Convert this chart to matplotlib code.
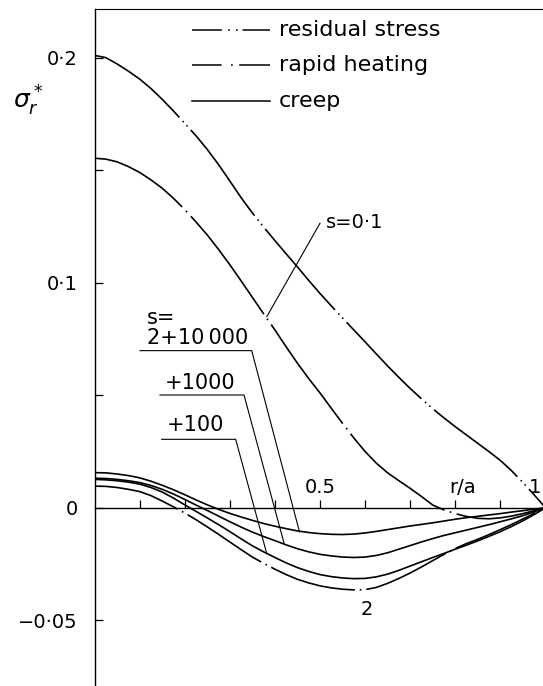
import numpy as np
import matplotlib
matplotlib.use("Agg")
import matplotlib.pyplot as plt

plt.rcParams['font.family'] = ['DejaVu Sans']
plt.rcParams['lines.scale_dashes'] = False

# radius r/a, every 0.025
r = [0, 0.025, 0.05, 0.075, 0.1, 0.125, 0.15, 0.175, 0.2, 0.225, 0.25, 0.275, 0.3, 0.325,
     0.35, 0.375, 0.4, 0.425, 0.45, 0.475, 0.5, 0.525, 0.55, 0.575, 0.6, 0.625, 0.65, 0.675,
     0.7, 0.725, 0.75, 0.775, 0.8, 0.825, 0.85, 0.875, 0.9, 0.925, 0.95, 0.975, 1.0]

# s = 0.1 curves
residual = [0.2010, 0.2000, 0.1972, 0.1940, 0.1905, 0.1863, 0.1815, 0.1763, 0.1708, 0.1653, 0.1592,
            0.1525, 0.1452, 0.1378, 0.1310, 0.1247, 0.1187, 0.1128, 0.1070, 0.1010, 0.0952, 0.0897,
            0.0843, 0.0790, 0.0737, 0.0683, 0.0630, 0.0579, 0.0530, 0.0484, 0.0440, 0.0399, 0.0360,
            0.0323, 0.0286, 0.0249, 0.0210, 0.0164, 0.0112, 0.0057, 0.0]
rapid = [0.1553, 0.1549, 0.1537, 0.1516, 0.1490, 0.1457, 0.1420, 0.1375, 0.1325, 0.1270, 0.1212,
         0.1148, 0.1080, 0.1008, 0.0935, 0.0862, 0.0790, 0.0715, 0.0642, 0.0574, 0.0510, 0.0442,
         0.0375, 0.0310, 0.0250, 0.0198, 0.0155, 0.0120, 0.0086, 0.0050, 0.0012, -0.0010, -0.0026,
         -0.0039, -0.0047, -0.0049, -0.0045, -0.0037, -0.0026, -0.0013, 0.0]

# creep curves, s = 2 + 10000 / +1000 / +100
creep_10000 = [0.0156, 0.0155, 0.0150, 0.0143, 0.0133, 0.0118, 0.0100, 0.0080, 0.0058, 0.0035, 0.0013,
               -0.0007, -0.0025, -0.0041, -0.0056, -0.0070, -0.0082, -0.0093, -0.0103, -0.0110, -0.0115,
               -0.0118, -0.0119, -0.0117, -0.0112, -0.0105, -0.0097, -0.0089, -0.0081, -0.0074, -0.0067,
               -0.0059, -0.0051, -0.0044, -0.0038, -0.0032, -0.0026, -0.0019, -0.0013, -0.0006, 0.0]
creep_1000 = [0.0131, 0.0130, 0.0126, 0.0120, 0.0112, 0.0099, 0.0082, 0.0061, 0.0037, 0.0012, -0.0012,
              -0.0037, -0.0062, -0.0086, -0.0108, -0.0128, -0.0146, -0.0165, -0.0182, -0.0196, -0.0207,
              -0.0214, -0.0219, -0.0221, -0.0219, -0.0212, -0.0200, -0.0184, -0.0168, -0.0152, -0.0137,
              -0.0123, -0.0111, -0.0099, -0.0087, -0.0075, -0.0062, -0.0049, -0.0035, -0.0018, 0.0]
creep_100 = [0.0126, 0.0124, 0.0120, 0.0114, 0.0105, 0.0090, 0.0070, 0.0043, 0.0013, -0.0016, -0.0045,
             -0.0075, -0.0106, -0.0138, -0.0169, -0.0196, -0.0221, -0.0245, -0.0266, -0.0283, -0.0297,
             -0.0306, -0.0312, -0.0315, -0.0314, -0.0307, -0.0295, -0.0278, -0.0259, -0.0240, -0.0221,
             -0.0203, -0.0184, -0.0166, -0.0147, -0.0127, -0.0106, -0.0083, -0.0058, -0.0030, 0.0]
# rapid heating, s = 2
rapid_s2 = [0.0096, 0.0095, 0.0090, 0.0082, 0.0072, 0.0054, 0.0030, 0.0004, -0.0023, -0.0053, -0.0085,
            -0.0118, -0.0152, -0.0186, -0.0219, -0.0247, -0.0273, -0.0297, -0.0318, -0.0334, -0.0347,
            -0.0356, -0.0362, -0.0365, -0.0364, -0.0354, -0.0336, -0.0314, -0.0290, -0.0263, -0.0235,
            -0.0207, -0.0181, -0.0159, -0.0140, -0.0119, -0.0097, -0.0074, -0.0050, -0.0025, 0.0]

yticks = [-0.05, 0, 0.05, 0.1, 0.15, 0.2]
ytick_labels = ['\u22120\u00b705', '0', '', '0\u00b71', '', '0\u00b72']
xticks = [0.1, 0.2, 0.3, 0.4, 0.5, 0.6, 0.7, 0.8, 0.9]

ls_residual = (0, (77, 3.5, 1.1, 3, 1.1, 3.5))
ls_rapid = (14, (88, 4, 1.2, 4))
ls_rapid2 = (0, (63, 3.5, 1.2, 3.5))

fig = plt.figure(figsize=(5.43, 6.86), dpi=100)
ax = fig.add_axes([94.5 / 543, 0, 451 / 543, 677 / 686])
ax.set_xlim(0, 1)
ax.set_ylim(-0.0792, 0.2216)

ax.plot(r, residual, color='k', lw=1.2, linestyle=ls_residual)
ax.plot(r, rapid, color='k', lw=1.2, linestyle=ls_rapid)
ax.plot(r, creep_10000, color='k', lw=1.2)
ax.plot(r, creep_1000, color='k', lw=1.2)
ax.plot(r, creep_100, color='k', lw=1.2)
ax.plot(r, rapid_s2, color='k', lw=1.2, linestyle=ls_rapid2)

# axes
ax.spines['right'].set_visible(False)
ax.spines['bottom'].set_position(('data', 0))
ax.spines['top'].set_linewidth(0.8)
ax.spines['left'].set_linewidth(1.0)
ax.spines['bottom'].set_linewidth(1.0)
ax.set_yticks(yticks)
ax.set_yticklabels(ytick_labels)
ax.tick_params(axis='y', direction='in', length=6, width=0.9, pad=12, labelsize=14)
ax.set_xticks(xticks)
ax.tick_params(axis='x', direction='in', length=6, width=0.9, labelbottom=False)

ax.text(0.5, 0.0065, '0.5', ha='center', va='baseline', fontsize=14)
ax.text(0.815, 0.0065, 'r/a', ha='center', va='baseline', fontsize=14)
ax.text(0.977, 0.0065, '1', ha='center', va='baseline', fontsize=14)
ax.text(-0.147, 0.1807, r'$\sigma_r^*$', ha='center', va='center', fontsize=18, clip_on=False)

# legend
leg_y = [0.2123, 0.1967, 0.1807]
leg_names = ['residual stress', 'rapid heating', 'creep']
leg_styles = [(0, (21.5, 4.5, 1.2, 4.5, 1.2, 3.5, 40)), (0, (21.3, 6.8, 1.2, 4.7, 40)), '-']
for yy, name, st in zip(leg_y, leg_names, leg_styles):
    ax.plot([0.2162, 0.3891], [yy, yy], color='k', lw=1.1, linestyle=st)
    ax.text(0.409, yy, name, ha='left', va='center', fontsize=16)

# labels and leader lines
ax.text(0.513, 0.1268, 's=0\u00b71', ha='left', va='center', fontsize=14)
ax.plot([0.5, 0.382], [0.1264, 0.0849], color='k', lw=0.8)

ax.text(0.1164, 0.0841, 's=', ha='left', va='center', fontsize=15)
ax.text(0.1164, 0.0752, '2+10\u2009000', ha='left', va='center', fontsize=15)
ax.plot([0.1009, 0.3486, 0.4545], [0.0698, 0.0698, -0.0107], color='k', lw=0.8)

ax.text(0.156, 0.0556, '+1000', ha='left', va='center', fontsize=15)
ax.plot([0.1452, 0.3315, 0.4202], [0.0501, 0.0501, -0.0157], color='k', lw=0.8)

ax.text(0.1608, 0.0368, '+100', ha='left', va='center', fontsize=15)
ax.plot([0.149, 0.313, 0.3816], [0.0304, 0.0304, -0.0201], color='k', lw=0.8)

ax.text(0.604, -0.0452, '2', ha='center', va='center', fontsize=14)

fig.savefig('out.png', dpi=100)
